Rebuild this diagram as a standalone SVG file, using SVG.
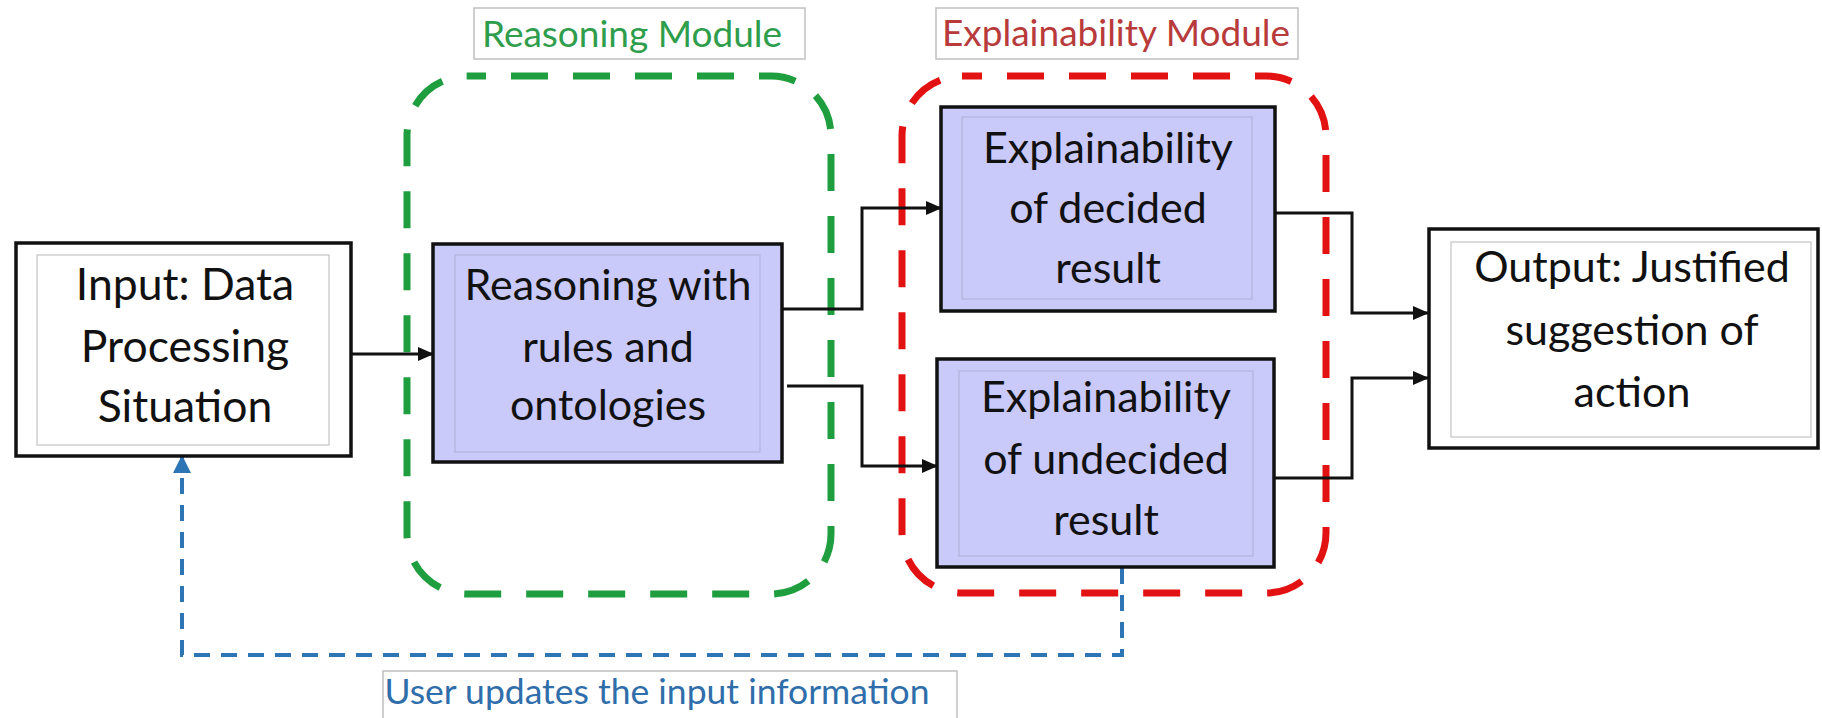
<svg xmlns="http://www.w3.org/2000/svg" width="1822" height="718" viewBox="0 0 1822 718">
<style>
.box{stroke:#111;stroke-width:3.5}
.white{fill:#fff}
.lav{fill:#c9c9fa}
.inner{fill:none;stroke:#c4c4c4;stroke-width:1.2}
.innerL{fill:none;stroke:#b4b4dc;stroke-width:1.2}
.t{font-family:Lato,"Liberation Sans",sans-serif;font-size:43px;fill:#111;text-anchor:middle}
.lbl{font-family:Lato,"Liberation Sans",sans-serif;font-size:37px;text-anchor:middle}
.lblbox{fill:#fff;stroke:#c0c0c0;stroke-width:1.5}
.conn{fill:none;stroke:#111;stroke-width:3}
.grp{fill:none;stroke-width:7;stroke-dasharray:37 25}
</style>
<defs>
<marker id="ah" markerUnits="userSpaceOnUse" markerWidth="16" markerHeight="14" refX="15" refY="7" orient="auto">
<path d="M0,0 L16,7 L0,14 Z" fill="#111"/>
</marker>
<marker id="ahb" markerUnits="userSpaceOnUse" markerWidth="18" markerHeight="18" refX="17" refY="9" orient="auto">
<path d="M0,0 L18,9 L0,18 Z" fill="#2e75b6"/>
</marker>
</defs>
<rect width="1822" height="718" fill="#fff"/>

<g id="reasoning-module">
<rect x="407" y="76" width="424" height="518" rx="60" class="grp" stroke="#1e9e3e" stroke-dashoffset="18"/>
<rect x="474" y="8" width="331" height="51" class="lblbox"/>
<text x="632" y="47" class="lbl" fill="#2f9e4c">Reasoning Module</text>
</g>

<g id="explainability-module">
<rect x="902" y="76" width="424" height="517" rx="60" class="grp" stroke="#e31212" stroke-dashoffset="17"/>
<rect x="936" y="8" width="362" height="51" class="lblbox"/>
<text x="1116" y="46" class="lbl" fill="#b83a3a">Explainability Module</text>
</g>

<g id="connectors">
<line x1="351" y1="354" x2="433" y2="354" class="conn" marker-end="url(#ah)"/>
<polyline points="782,309 862,309 862,208 941,208" class="conn" marker-end="url(#ah)"/>
<polyline points="787,386 862,386 862,466 937,466" class="conn" marker-end="url(#ah)"/>
<polyline points="1274,213 1352,213 1352,313 1428,313" class="conn" marker-end="url(#ah)"/>
<polyline points="1274,478 1352,478 1352,378 1428,378" class="conn" marker-end="url(#ah)"/>
<polyline points="1122,568 1122,655 182,655 182,456" fill="none" stroke="#2e75b6" stroke-width="4" stroke-dasharray="16 11" marker-end="url(#ahb)"/>
</g>

<g id="input">
<rect x="16" y="243" width="335" height="213" class="box white"/>
<rect x="37" y="255" width="292" height="190" class="inner"/>
<text class="t" style="font-size:44.5px"><tspan x="185" y="300">Input: Data</tspan><tspan x="185" y="362">Processing</tspan><tspan x="185" y="422">Situation</tspan></text>
</g>

<g id="reasoning">
<rect x="433" y="244" width="349" height="218" class="box lav"/>
<rect x="455" y="255" width="305" height="197" class="innerL"/>
<text class="t"><tspan x="608" y="300">Reasoning with</tspan><tspan x="608" y="362">rules and</tspan><tspan x="608" y="420">ontologies</tspan></text>
</g>

<g id="decided">
<rect x="941" y="107" width="334" height="204" class="box lav"/>
<rect x="962" y="117" width="290" height="182" class="innerL"/>
<text class="t"><tspan x="1108" y="163">Explainability</tspan><tspan x="1108" y="223">of decided</tspan><tspan x="1108" y="283">result</tspan></text>
</g>

<g id="undecided">
<rect x="937" y="359" width="337" height="208" class="box lav"/>
<rect x="959" y="371" width="294" height="185" class="innerL"/>
<text class="t"><tspan x="1106" y="412">Explainability</tspan><tspan x="1106" y="474">of undecided</tspan><tspan x="1106" y="535">result</tspan></text>
</g>

<g id="output">
<rect x="1429" y="229" width="389" height="219" class="box white"/>
<rect x="1451" y="242" width="360" height="195" class="inner"/>
<text class="t"><tspan x="1632" y="282">Output: Justified</tspan><tspan x="1632" y="345">suggestion of</tspan><tspan x="1632" y="407">action</tspan></text>
</g>

<g id="feedback-label">
<rect x="383" y="671" width="574" height="52" class="lblbox"/>
<text x="657" y="704" class="lbl" style="font-size:35.5px" fill="#2f6eaa">User updates the input information</text>
</g>
</svg>
